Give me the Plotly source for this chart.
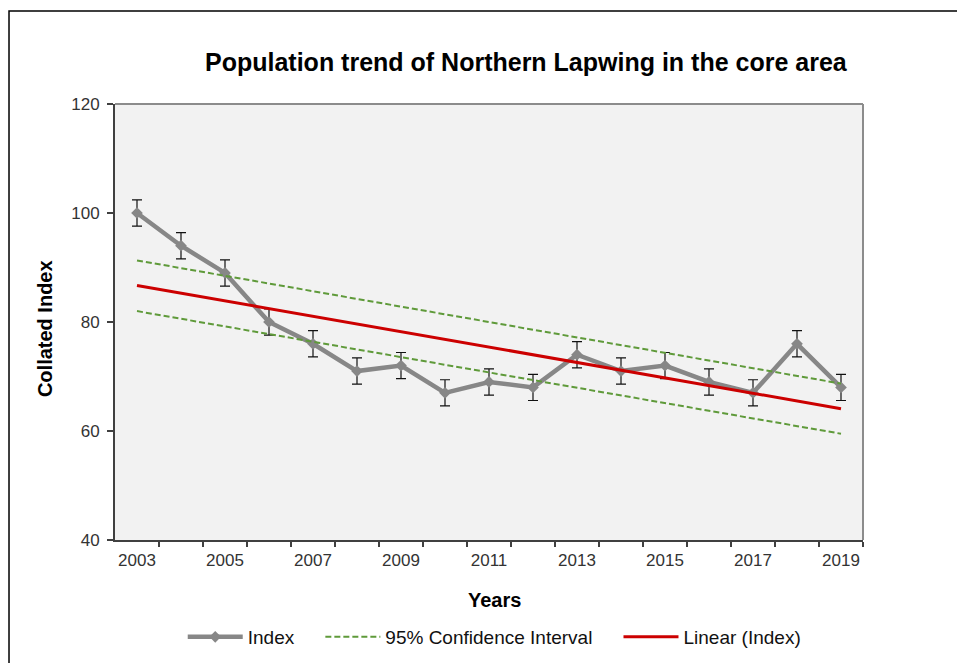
import plotly.graph_objects as go

years = list(range(2003, 2020))
index_vals = [100, 94, 89, 80, 76, 71, 72, 67, 69, 68, 74, 71, 72, 69, 67, 76, 68]
index_err = [2.4, 2.4, 2.4, 2.4, 2.4, 2.4, 2.4, 2.4, 2.4, 2.4, 2.4, 2.4, 2.4, 2.4, 2.4, 2.4, 2.4]
trend_years = [2003, 2019]
trend_vals = [86.7, 64.1]
ci_upper = [91.3, 68.7]
ci_lower = [82.0, 59.5]
label_years = [2003, 2005, 2007, 2009, 2011, 2013, 2015, 2017, 2019]
y_ticks = [40, 60, 80, 100, 120]

FONT = "Liberation Sans, Arial, sans-serif"
GAP = "&nbsp;" * 4
fig = go.Figure()

fig.add_trace(go.Scatter(
    x=years, y=index_vals, name="Index" + GAP, mode="lines+markers",
    line=dict(color="#878787", width=4.5),
    marker=dict(symbol="diamond", size=9, color="#878787"),
    error_y=dict(type="data", array=index_err, visible=True, color="#111111", thickness=1.2, width=5),
))
fig.add_trace(go.Scatter(
    x=trend_years, y=ci_upper, name="95% Confidence Interval" + GAP, mode="lines",
    line=dict(color="#5f9a3a", width=2, dash="6px,3px"),
))
fig.add_trace(go.Scatter(
    x=trend_years, y=ci_lower, name="95% Confidence Interval", mode="lines", showlegend=False,
    line=dict(color="#5f9a3a", width=2, dash="6px,3px"),
))
fig.add_trace(go.Scatter(
    x=trend_years, y=trend_vals, name="Linear (Index)", mode="lines", xaxis="x2",
    line=dict(color="#cc0000", width=3),
))

rng = [years[0] - 0.5, years[-1] + 0.5]
bounds = [y + 0.5 for y in years]

fig.update_layout(
    width=957, height=663,
    margin=dict(l=115, r=94, t=104, b=123, autoexpand=False),
    paper_bgcolor="white", plot_bgcolor="#f2f2f2",
    font=dict(family=FONT, size=17, color="#333333"),
    showlegend=True,
    legend=dict(orientation="h", x=0.507, xanchor="center", y=-0.2225, yanchor="middle",
                itemwidth=55,
                font=dict(size=19, color="#111111"), bgcolor="rgba(0,0,0,0)"),
    xaxis=dict(range=rng, tickmode="array", tickvals=bounds, showticklabels=False,
               ticks="outside", ticklen=5, tickcolor="#404040", tickwidth=1.5,
               showline=True, linecolor="#404040", linewidth=2, showgrid=False, zeroline=False),
    xaxis2=dict(range=rng, overlaying="x", anchor="y", side="bottom", tickmode="array",
                tickvals=label_years, ticktext=[str(y) for y in label_years],
                ticks="outside", ticklen=5, tickcolor="rgba(0,0,0,0)",
                showline=False, showgrid=False, zeroline=False,
                tickfont=dict(size=17, color="#333333")),
    yaxis=dict(range=[40, 120], tickmode="array", tickvals=y_ticks, ticks="outside", ticklen=6,
               tickcolor="#404040", tickwidth=1.5, showline=True, linecolor="#404040", linewidth=2,
               showgrid=False, zeroline=False, ticklabelstandoff=4,
               tickfont=dict(size=17, color="#333333")),
    shapes=[
        dict(type="line", xref="paper", yref="paper", x0=0, x1=1, y0=1, y1=1,
             line=dict(color="#8c8c8c", width=2)),
        dict(type="line", xref="paper", yref="paper", x0=1, x1=1, y0=0, y1=1,
             line=dict(color="#8c8c8c", width=2)),
        dict(type="rect", xref="paper", yref="paper", x0=-0.1417, x1=1.2, y0=-0.4, y1=1.2133,
             line=dict(color="#000000", width=1.5)),
    ],
    annotations=[
        dict(text="<b>Population trend of Northern Lapwing in the core area</b>", xref="paper", yref="paper",
             x=0.5495, y=1.0963, xanchor="center", yanchor="middle", showarrow=False,
             font=dict(size=25, color="#000000")),
        dict(text="<b>Years</b>", xref="paper", yref="paper", x=0.508, y=-0.1376,
             xanchor="center", yanchor="middle", showarrow=False, font=dict(size=20, color="#000000")),
        dict(text="<b>Collated Index</b>", xref="paper", yref="paper", x=-0.0936, y=0.486,
             xanchor="center", yanchor="middle", showarrow=False, textangle=-90,
             font=dict(size=20, color="#000000")),
    ],
)

fig.write_html("out.html")
